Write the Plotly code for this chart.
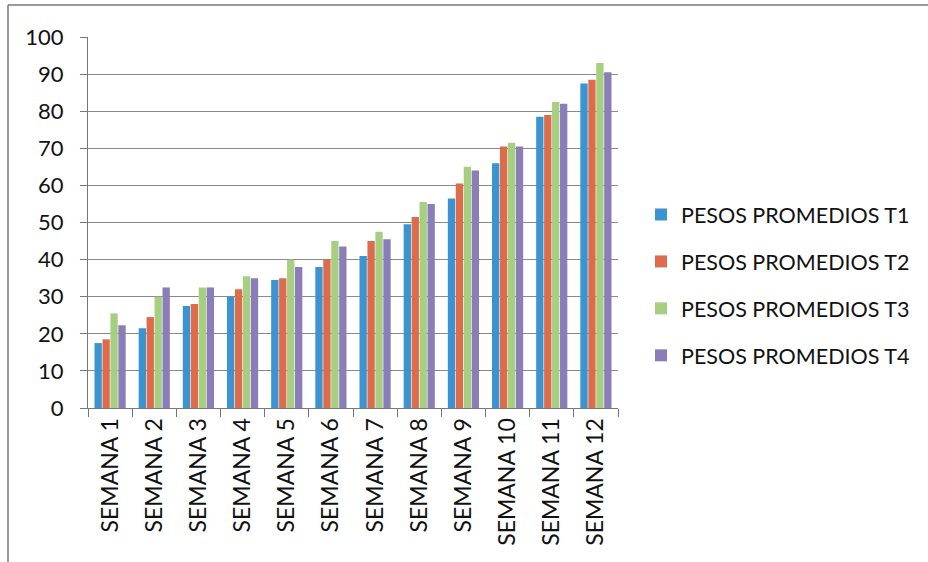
import plotly.graph_objects as go

semanas = ["SEMANA 1", "SEMANA 2", "SEMANA 3", "SEMANA 4", "SEMANA 5", "SEMANA 6",
           "SEMANA 7", "SEMANA 8", "SEMANA 9", "SEMANA 10", "SEMANA 11", "SEMANA 12"]
t1 = [17.5, 21.5, 27.5, 30.0, 34.5, 38.0, 41.0, 49.5, 56.5, 66.0, 78.5, 87.5]
t2 = [18.5, 24.5, 28.0, 32.0, 35.0, 40.0, 45.0, 51.5, 60.5, 70.5, 79.0, 88.5]
t3 = [25.5, 30.0, 32.5, 35.5, 40.0, 45.0, 47.5, 55.5, 65.0, 71.5, 82.5, 93.0]
t4 = [22.3, 32.5, 32.5, 35.0, 38.0, 43.5, 45.5, 55.0, 64.0, 70.5, 82.0, 90.5]
names = ["PESOS PROMEDIOS T1", "PESOS PROMEDIOS T2", "PESOS PROMEDIOS T3", "PESOS PROMEDIOS T4"]
colors = ["#3B93CF", "#DC6C4C", "#A6CF82", "#8B7DB8"]

fig = go.Figure()
for name, vals, c in zip(names, [t1, t2, t3, t4], colors):
    fig.add_trace(go.Bar(x=semanas, y=vals, name=name, legendgroup=name,
                         marker=dict(color=c, line=dict(width=0))))

W, H = 928, 562
L, R, T, B = 88, 618, 37, 408
pw, ph = R - L, B - T

def px(x):
    return (x - L) / pw

def py(y):
    return (B - y) / ph

fig.update_layout(
    width=W, height=H,
    margin=dict(l=L, r=W - R, t=T, b=H - B),
    paper_bgcolor="white", plot_bgcolor="white",
    barmode="group", bargap=0.28, bargroupgap=0.08,
    font=dict(family="Lato, Open Sans, sans-serif", size=21, color="#111"),
    showlegend=True,
    legend=dict(x=px(641), y=py(194), xanchor="left", yanchor="top",
                font=dict(size=21.5), tracegroupgap=16, itemwidth=30,
                bgcolor="rgba(0,0,0,0)"),
    xaxis=dict(showline=True, linecolor="#777", linewidth=1, ticks="outside",
               tickson="boundaries", ticklen=8, tickcolor="#777", tickangle=-90,
               showgrid=False, tickfont=dict(size=23)),
    yaxis=dict(range=[0, 100], dtick=10, showline=True, linecolor="#777", linewidth=1,
               ticks="outside", ticklen=7, tickcolor="#777", showgrid=True,
               gridcolor="#8a8a8a", gridwidth=1, tickfont=dict(size=22), zeroline=False,
               ticklabelstandoff=12),
    shapes=[
        dict(type="line", xref="paper", yref="paper", x0=px(8), x1=px(928), y0=py(5), y1=py(5),
             line=dict(color="#777", width=1.5)),
        dict(type="line", xref="paper", yref="paper", x0=px(8), x1=px(8), y0=py(5), y1=py(562),
             line=dict(color="#777", width=1.5)),
    ],
)
fig.write_html("out.html", config={"displayModeBar": False},
               post_script="document.body.style.margin='0';")
